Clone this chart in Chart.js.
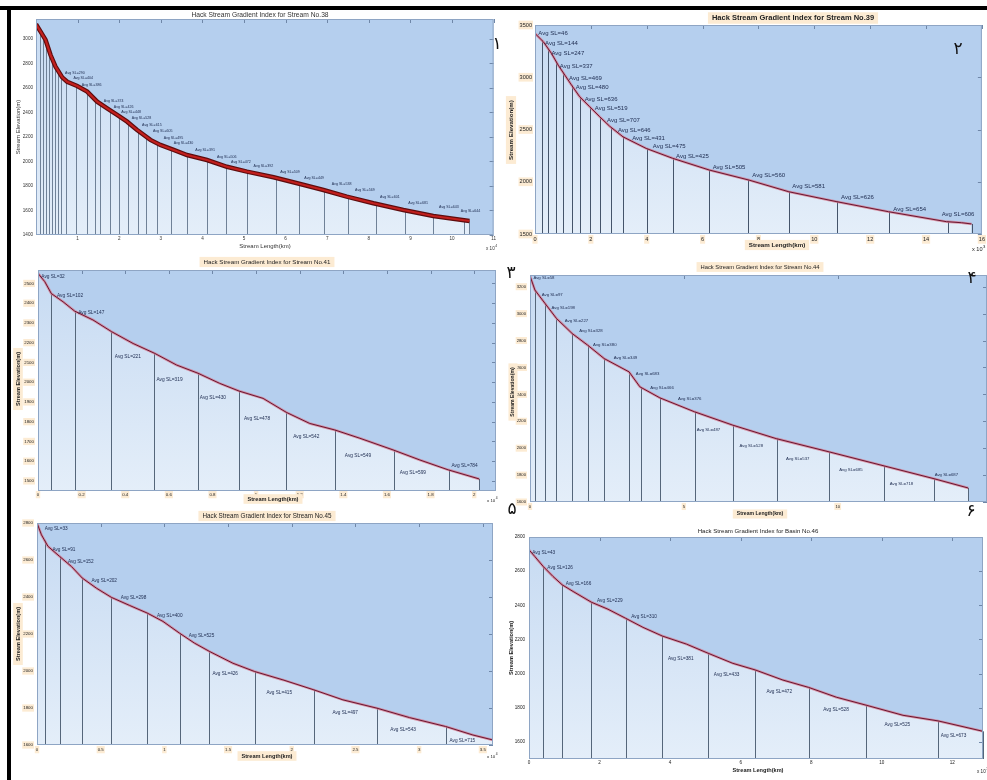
<!DOCTYPE html>
<html>
<head>
<meta charset="utf-8">
<script src="https://cdn.jsdelivr.net/npm/chart.js@4.4.1/dist/chart.umd.min.js"></script>
<style>
  html, body { margin: 0; padding: 0; background: #fff; }
  #page { position: relative; width: 987px; height: 780px; overflow: hidden; background: #fff; }
  #page canvas { position: absolute; z-index: 1; }
  .frame { position: absolute; background: #000; z-index: 2; }
  .num { position: absolute; z-index: 3; font-family: "DejaVu Sans", sans-serif; font-size: 17px; color: #111; line-height: 1; transform: translate(-50%, -50%); }
</style>
</head>
<body>
<div id="page">
  <div class="frame" style="left:0;top:6px;width:987px;height:4px"></div>
  <div class="frame" style="left:7px;top:6px;width:4px;height:774px"></div>
  <div class="num" style="left:497px;top:43px">۱</div>
  <div class="num" style="left:958px;top:48px">۲</div>
  <div class="num" style="left:511px;top:272px">۳</div>
  <div class="num" style="left:972px;top:277px">۴</div>
  <div class="num" style="left:512px;top:508px">۵</div>
  <div class="num" style="left:971px;top:510px">۶</div>
</div>
<script>
"use strict";

// stream No.38 (length x10^4, elevation m)
const len38 = [0, 0.11, 0.23, 0.35, 0.47, 0.63, 0.75, 0.99, 1.23, 1.47, 1.71, 1.95, 2.19, 2.43, 2.75, 2.99, 3.31, 3.63, 4.11, 4.59, 5.07, 5.71, 6.35, 6.91, 7.47, 8.11, 8.83, 9.55, 10.42];
const elev38 = [3120, 3060, 2992, 2869, 2774, 2687, 2651, 2616, 2570, 2488, 2434, 2380, 2325, 2257, 2176, 2135, 2094, 2053, 2012, 1957, 1917, 1871, 1816, 1767, 1713, 1659, 1604, 1555, 1514];
const breaks38 = [0.10, 0.18, 0.25, 0.31, 0.39, 0.46, 0.53, 0.61, 0.73, 0.95, 1.22, 1.41, 1.55, 1.77, 1.99, 2.22, 2.44, 2.65, 2.92, 3.25, 3.63, 4.12, 4.57, 5.07, 5.76, 6.32, 6.92, 7.50, 8.17, 8.87, 9.55, 10.30, 10.42];
const sl38 = [290, 404, 386, 374, 426, 448, 528, 615, 605, 495, 430, 391, 506, 472, 392, 509, 449, 538, 569, 601, 681, 643, 644];
const slX38 = [0.70, 0.90, 1.10, 1.63, 1.87, 2.05, 2.30, 2.55, 2.81, 3.07, 3.31, 3.83, 4.35, 4.69, 5.23, 5.87, 6.45, 7.11, 7.67, 8.27, 8.95, 9.69, 10.21];
const slY38 = [2725, 2684, 2624, 2496, 2442, 2402, 2355, 2298, 2247, 2194, 2149, 2094, 2039, 1996, 1963, 1912, 1868, 1816, 1767, 1713, 1659, 1626, 1596];
const xTicks38 = [1, 2, 3, 4, 5, 6, 7, 8, 9, 10, 11];
const yTicks38 = [1400, 1600, 1800, 2000, 2200, 2400, 2600, 2800, 3000];

// stream No.39 (length x10^3)
const len39 = [0, 0.30, 0.59, 0.83, 1.07, 1.31, 1.60, 1.96, 2.32, 2.67, 3.15, 3.98, 4.93, 6.24, 7.66, 9.09, 10.81, 12.66, 14.73, 15.27, 15.63];
const elev39 = [3419, 3339, 3228, 3116, 3020, 2924, 2813, 2717, 2621, 2532, 2430, 2319, 2224, 2112, 2016, 1904, 1809, 1713, 1618, 1608, 1596];
const breaks39 = [0.24, 0.47, 0.75, 1.01, 1.31, 1.60, 1.96, 2.34, 2.73, 3.15, 4.00, 4.93, 6.24, 7.63, 9.09, 10.81, 12.69, 14.80, 15.63];
const sl39 = [46, 144, 247, 337, 469, 480, 636, 519, 707, 646, 431, 475, 425, 505, 560, 581, 626, 654, 606];
const slX39 = [0.12, 0.36, 0.59, 0.89, 1.22, 1.46, 1.78, 2.14, 2.58, 2.97, 3.48, 4.22, 5.05, 6.36, 7.78, 9.21, 10.96, 12.83, 14.56];
const slY39 = [3419, 3329, 3228, 3106, 2994, 2908, 2791, 2701, 2583, 2494, 2415, 2335, 2239, 2138, 2057, 1952, 1847, 1739, 1688];
const xTicks39 = [0, 2, 4, 6, 8, 10, 12, 14, 16];
const yTicks39 = [1500, 2000, 2500, 3000, 3500];

// stream No.41 (length x10^4)
const len41 = [0, 0.031, 0.061, 0.115, 0.168, 0.252, 0.337, 0.436, 0.535, 0.635, 0.734, 0.833, 0.922, 1.032, 1.139, 1.246, 1.361, 1.476, 1.628, 1.751, 1.881, 2.023];
const elev41 = [2551, 2509, 2449, 2407, 2360, 2315, 2256, 2196, 2146, 2087, 2045, 1994, 1955, 1918, 1847, 1791, 1758, 1716, 1657, 1606, 1556, 1510];
const breaks41 = [0.061, 0.170, 0.337, 0.534, 0.733, 0.922, 1.136, 1.361, 1.633, 1.884, 2.023];
const sl41 = [32, 102, 147, 221, 319, 430, 478, 542, 549, 599, 784];
const slX41 = [0.015, 0.087, 0.184, 0.352, 0.543, 0.742, 0.944, 1.170, 1.407, 1.659, 1.896];
const slY41 = [2534, 2438, 2353, 2129, 2011, 1922, 1817, 1724, 1626, 1542, 1577];
const xTicks41 = [0, 0.2, 0.4, 0.6, 0.8, 1, 1.2, 1.4, 1.6, 1.8, 2];
const yTicks41 = [1500, 1600, 1700, 1800, 1900, 2000, 2100, 2200, 2300, 2400, 2500];

// stream No.44 (length x10^3)
const len44 = [0, 0.16, 0.49, 0.86, 1.37, 1.87, 2.41, 3.22, 3.57, 4.22, 5.35, 6.59, 8.00, 9.73, 11.51, 13.13, 14.24];
const elev44 = [3280, 3175, 3075, 2964, 2852, 2766, 2666, 2567, 2456, 2374, 2270, 2171, 2071, 1972, 1868, 1773, 1704];
const breaks44 = [0.16, 0.49, 0.86, 1.37, 1.87, 2.41, 3.22, 3.62, 4.22, 5.35, 6.59, 8.02, 9.73, 11.51, 13.13, 14.24];
const sl44 = [58, 97, 198, 227, 328, 380, 349, 683, 466, 376, 487, 528, 537, 685, 718, 687];
const slX44 = [0.11, 0.38, 0.70, 1.13, 1.60, 2.05, 2.72, 3.44, 3.91, 4.81, 5.42, 6.81, 8.32, 10.05, 11.69, 13.15];
const slY44 = [3267, 3143, 3046, 2944, 2870, 2766, 2674, 2555, 2448, 2364, 2133, 2014, 1918, 1836, 1732, 1803];
const xTicks44 = [0, 5, 10];
const yTicks44 = [1600, 1800, 2000, 2200, 2400, 2600, 2800, 3000, 3200];

// stream No.45 (length x10^4)
const len45 = [0, 0.035, 0.086, 0.178, 0.270, 0.356, 0.466, 0.584, 0.728, 0.866, 0.989, 1.120, 1.238, 1.356, 1.538, 1.709, 1.931, 2.174, 2.402, 2.669, 2.925, 3.208, 3.422, 3.58];
const elev45 = [2800, 2736, 2674, 2619, 2565, 2502, 2448, 2398, 2354, 2313, 2268, 2204, 2150, 2105, 2042, 1997, 1952, 1898, 1844, 1799, 1748, 1700, 1654, 1627];
const breaks45 = [0.060, 0.178, 0.356, 0.584, 0.866, 1.120, 1.350, 1.709, 2.174, 2.669, 3.208];
const sl45 = [33, 91, 152, 202, 298, 400, 525, 426, 415, 497, 543, 715];
const slX45 = [0.060, 0.121, 0.243, 0.427, 0.657, 0.942, 1.191, 1.377, 1.801, 2.319, 2.774, 3.239];
const slY45 = [2769, 2655, 2592, 2490, 2398, 2298, 2190, 1984, 1880, 1777, 1685, 1624];
const xTicks45 = [0, 0.5, 1, 1.5, 2, 2.5, 3, 3.5];
const yTicks45 = [1600, 1800, 2000, 2200, 2400, 2600, 2800];

// basin No.46 (length x10^3)
const len46 = [0, 0.16, 0.40, 0.68, 0.94, 1.25, 1.77, 2.24, 2.74, 3.23, 3.78, 4.46, 5.08, 5.78, 6.42, 7.20, 7.93, 8.71, 9.56, 10.60, 11.60, 12.87];
const elev46 = [2725, 2687, 2628, 2569, 2520, 2481, 2418, 2377, 2324, 2271, 2220, 2173, 2119, 2060, 2021, 1962, 1919, 1862, 1815, 1756, 1723, 1662];
const breaks46 = [0.40, 0.94, 1.77, 2.74, 3.78, 5.08, 6.42, 7.93, 9.56, 11.60, 12.87];
const sl46 = [43, 126, 166, 229, 310, 381, 433, 472, 528, 525, 673];
const slX46 = [0.09, 0.52, 1.04, 1.93, 2.90, 3.94, 5.24, 6.73, 8.34, 10.08, 11.67];
const slY46 = [2710, 2622, 2526, 2428, 2336, 2089, 1995, 1897, 1790, 1702, 1639];
const xTicks46 = [0, 2, 4, 6, 8, 10, 12];
const yTicks46 = [1600, 1800, 2000, 2200, 2400, 2600, 2800];

const FONT = '"Liberation Sans", Arial, sans-serif';
const PEACH = "#fcebd3";
const SKY = "#b5cfee";
const FILL_TOP = "#c6daf2";
const FILL_BOTTOM = "#e4eef9";

// panel layout: box = canvas [left, top, width, height] in page px
const panels = [
  {
    no: 38, box: [10, 10, 487, 246], yw: 26, top: 9, right: 3, xh: 21,
    len: len38, elev: elev38, breaks: breaks38, sl: sl38, slX: slX38, slY: slY38,
    xTicks: xTicks38, yTicks: yTicks38, xMax: 11, yMin: 1400, yMax: 3163,
    title: "Hack Stream Gradient Index for Stream No.38", titleAt: [260, 15], titleSize: 6.7, titleBold: false,
    xTitleAt: [265, 246], yTitleAt: [18, 127], axisSize: 6, axisBold: false,
    exp: "4", expAt: [486, 249], tickSize: 4.6, xPad: 1, yPad: 3, slSize: 3.6,
    peach: false, textColor: "#333",
    lineColor: "#c21f1d", lineWidth: 2.2, haloColor: "#5e0c0e", haloWidth: 4.5, breakColor: "#6f8197"
  },
  {
    no: 39, box: [500, 10, 487, 245], yw: 35, top: 15, right: 4, xh: 21,
    len: len39, elev: elev39, breaks: breaks39, sl: sl39, slX: slX39, slY: slY39,
    xTicks: xTicks39, yTicks: yTicks39, xMax: 16, yMin: 1500, yMax: 3500,
    title: "Hack Stream Gradient Index for Stream No.39", titleAt: [793, 18], titleSize: 7.5, titleBold: true,
    xTitleAt: [777, 245], yTitleAt: [511, 130], axisSize: 6.2, axisBold: true,
    exp: "3", expAt: [972, 249], tickSize: 5.6, xPad: 2, yPad: 3, slSize: 6,
    peach: true, textColor: "#222",
    lineColor: "#6a1530", lineWidth: 1, haloColor: "rgba(214,120,140,0.75)", haloWidth: 2.6, breakColor: "#44546a"
  },
  {
    no: 41, box: [10, 256, 488, 250], yw: 28, top: 14, right: 2, xh: 15,
    len: len41, elev: elev41, breaks: breaks41, sl: sl41, slX: slX41, slY: slY41,
    xTicks: xTicks41, yTicks: yTicks41, xMax: 2.1, yMin: 1449, yMax: 2568,
    title: "Hack Stream Gradient Index for Stream No.41", titleAt: [267, 262], titleSize: 6.2, titleBold: false,
    xTitleAt: [273, 499], yTitleAt: [18, 379], axisSize: 5.6, axisBold: true,
    exp: "4", expAt: [487, 501], tickSize: 4.4, xPad: 1, yPad: 4, slSize: 4.8,
    peach: true, textColor: "#222",
    lineColor: "#6a1530", lineWidth: 1, haloColor: "rgba(214,120,140,0.75)", haloWidth: 2.6, breakColor: "#55667a"
  },
  {
    no: 44, box: [500, 258, 487, 262], yw: 30, top: 17, right: 0, xh: 18,
    len: len44, elev: elev44, breaks: breaks44, sl: sl44, slX: slX44, slY: slY44,
    xTicks: xTicks44, yTicks: yTicks44, xMax: 14.85, yMin: 1600, yMax: 3287,
    title: "Hack Stream Gradient Index for Stream No.44", titleAt: [760, 267], titleSize: 5.8, titleBold: false,
    xTitleAt: [760, 514], yTitleAt: [513, 392], axisSize: 5.1, axisBold: true,
    exp: "", expAt: [0, 0], tickSize: 4.2, xPad: 2, yPad: 4, slSize: 4.3,
    peach: true, textColor: "#222",
    lineColor: "#6a1530", lineWidth: 1, haloColor: "rgba(214,120,140,0.75)", haloWidth: 2.6, breakColor: "#55667a"
  },
  {
    no: 45, box: [10, 508, 488, 254], yw: 27, top: 15, right: 5, xh: 17,
    len: len45, elev: elev45, breaks: breaks45, sl: sl45, slX: slX45, slY: slY45,
    xTicks: xTicks45, yTicks: yTicks45, xMax: 3.58, yMin: 1600, yMax: 2800,
    title: "Hack Stream Gradient Index for Stream No.45", titleAt: [267, 516], titleSize: 6.3, titleBold: false,
    xTitleAt: [267, 756], yTitleAt: [18, 634], axisSize: 5.6, axisBold: true,
    exp: "4", expAt: [487, 757], tickSize: 4.4, xPad: 2, yPad: 4, slSize: 4.7,
    peach: true, textColor: "#222",
    lineColor: "#6a1530", lineWidth: 1, haloColor: "rgba(214,120,140,0.75)", haloWidth: 2.6, breakColor: "#55667a"
  },
  {
    no: 46, box: [500, 522, 487, 258], yw: 29, top: 15, right: 4, xh: 21,
    len: len46, elev: elev46, breaks: breaks46, sl: sl46, slX: slX46, slY: slY46,
    xTicks: xTicks46, yTicks: yTicks46, xMax: 12.87, yMin: 1500, yMax: 2800,
    title: "Hack Stream Gradient Index for Basin No.46", titleAt: [758, 531], titleSize: 6.1, titleBold: false,
    xTitleAt: [758, 770], yTitleAt: [511, 648], axisSize: 5.6, axisBold: true,
    exp: "3", expAt: [977, 772], tickSize: 4.6, xPad: 1, yPad: 4, slSize: 4.7,
    peach: false, textColor: "#222",
    lineColor: "#6a1530", lineWidth: 1, haloColor: "rgba(214,120,140,0.75)", haloWidth: 2.6, breakColor: "#55667a"
  }
];

// linear lookup of the profile elevation at a given length
function elevAt(xs, ys, x) {
  if (x <= xs[0]) return ys[0];
  for (let i = 1; i < xs.length; i++) {
    if (x <= xs[i]) {
      const t = (x - xs[i - 1]) / (xs[i] - xs[i - 1]);
      return ys[i - 1] + t * (ys[i] - ys[i - 1]);
    }
  }
  return ys[ys.length - 1];
}

function font(size, bold) {
  return (bold ? "bold " : "") + size + "px " + FONT;
}

// centered text with optional peach backdrop
function drawLabel(ctx, text, x, y, size, bold, color, backdrop, rotate) {
  ctx.save();
  ctx.translate(x, y);
  if (rotate) ctx.rotate(-Math.PI / 2);
  ctx.font = font(size, bold);
  ctx.textAlign = "center";
  ctx.textBaseline = "middle";
  if (backdrop) {
    const w = ctx.measureText(text).width;
    ctx.fillStyle = PEACH;
    ctx.fillRect(-w / 2 - 4, -size / 2 - 2, w + 8, size + 4);
  }
  ctx.fillStyle = color;
  ctx.fillText(text, 0, 0);
  ctx.restore();
}

function panelPlugin(p) {
  const ox = p.box[0];
  const oy = p.box[1];
  return {
    id: "panel" + p.no,
    beforeDraw(chart) {
      const { ctx, chartArea: a } = chart;
      ctx.save();
      ctx.fillStyle = SKY;
      ctx.fillRect(a.left, a.top, a.right - a.left, a.bottom - a.top);
      ctx.restore();
    },
    beforeDatasetDraw(chart, args) {
      if (args.index !== 1) return;
      const { ctx, chartArea: a, scales: { x, y } } = chart;
      ctx.save();
      // segment boundaries
      ctx.strokeStyle = p.breakColor;
      ctx.lineWidth = 1;
      p.breaks.forEach((b) => {
        const px = Math.round(x.getPixelForValue(b)) + 0.5;
        ctx.beginPath();
        ctx.moveTo(px, y.getPixelForValue(elevAt(p.len, p.elev, b)));
        ctx.lineTo(px, a.bottom);
        ctx.stroke();
      });
      // inner tick marks on top and right
      ctx.strokeStyle = "#6f87a8";
      x.ticks.forEach((t) => {
        const px = Math.round(x.getPixelForValue(t.value)) + 0.5;
        ctx.beginPath();
        ctx.moveTo(px, a.top);
        ctx.lineTo(px, a.top + 4);
        ctx.stroke();
      });
      y.ticks.forEach((t) => {
        const py = Math.round(y.getPixelForValue(t.value)) + 0.5;
        ctx.beginPath();
        ctx.moveTo(a.right, py);
        ctx.lineTo(a.right - 4, py);
        ctx.stroke();
      });
      ctx.restore();
    },
    afterDatasetsDraw(chart) {
      const { ctx, chartArea: a, scales: { x, y } } = chart;
      ctx.save();
      ctx.font = font(p.slSize, false);
      ctx.fillStyle = "#1d2b4f";
      ctx.textAlign = "left";
      ctx.textBaseline = "middle";
      p.sl.forEach((v, i) => {
        ctx.fillText("Avg SL=" + v, x.getPixelForValue(p.slX[i]), y.getPixelForValue(p.slY[i]));
      });
      ctx.strokeStyle = "#8ea5c4";
      ctx.lineWidth = 1;
      ctx.strokeRect(a.left + 0.5, a.top + 0.5, a.right - a.left - 1, a.bottom - a.top - 1);
      ctx.restore();
    },
    afterDraw(chart) {
      const ctx = chart.ctx;
      drawLabel(ctx, p.title, p.titleAt[0] - ox, p.titleAt[1] - oy, p.titleSize, p.titleBold, p.textColor, p.peach, false);
      drawLabel(ctx, "Stream Length(km)", p.xTitleAt[0] - ox, p.xTitleAt[1] - oy, p.axisSize, p.axisBold, p.textColor, p.peach, false);
      drawLabel(ctx, "Stream Elevation(m)", p.yTitleAt[0] - ox, p.yTitleAt[1] - oy, p.axisSize, p.axisBold, p.textColor, p.peach, true);
      if (p.exp) {
        ctx.save();
        ctx.fillStyle = p.textColor;
        ctx.textAlign = "left";
        ctx.textBaseline = "middle";
        ctx.font = font(p.tickSize, false);
        const ex = p.expAt[0] - ox;
        const ey = p.expAt[1] - oy;
        ctx.fillText("x 10", ex, ey);
        const w = ctx.measureText("x 10").width;
        ctx.font = font(p.tickSize * 0.75, false);
        ctx.fillText(p.exp, ex + w + 0.5, ey - 2.5);
        ctx.restore();
      }
    }
  };
}

const page = document.getElementById("page");

panels.forEach((p) => {
  const cv = document.createElement("canvas");
  cv.width = p.box[2];
  cv.height = p.box[3];
  cv.style.left = p.box[0] + "px";
  cv.style.top = p.box[1] + "px";
  cv.style.width = p.box[2] + "px";
  cv.style.height = p.box[3] + "px";
  page.appendChild(cv);

  const points = p.len.map((v, i) => ({ x: v, y: p.elev[i] }));
  const tickFont = { family: FONT, size: p.tickSize };

  new Chart(cv, {
    type: "line",
    data: {
      datasets: [
        {
          data: points,
          borderColor: p.lineColor,
          borderWidth: p.lineWidth,
          pointRadius: 0,
          tension: 0,
          fill: false
        },
        {
          data: points,
          borderColor: p.haloColor,
          borderWidth: p.haloWidth,
          pointRadius: 0,
          tension: 0,
          fill: "start",
          backgroundColor: (c) => {
            const area = c.chart.chartArea;
            if (!area) return FILL_BOTTOM;
            const g = c.chart.ctx.createLinearGradient(0, area.top, 0, area.bottom);
            g.addColorStop(0, FILL_TOP);
            g.addColorStop(1, FILL_BOTTOM);
            return g;
          }
        }
      ]
    },
    options: {
      responsive: false,
      animation: false,
      devicePixelRatio: 1,
      layout: { padding: { left: 0, top: p.top, right: p.right, bottom: 0 } },
      plugins: {
        legend: { display: false },
        tooltip: { enabled: false },
        title: { display: false }
      },
      scales: {
        x: {
          type: "linear",
          min: 0,
          max: p.xMax,
          grid: { display: false, drawTicks: false },
          border: { display: false },
          afterBuildTicks: (s) => { s.ticks = p.xTicks.map((v) => ({ value: v })); },
          afterFit: (s) => { s.height = p.xh; },
          ticks: {
            font: tickFont,
            color: p.textColor,
            padding: p.xPad,
            maxRotation: 0,
            autoSkip: false,
            showLabelBackdrop: p.peach,
            backdropColor: PEACH,
            backdropPadding: 1,
            callback: (v) => String(v)
          }
        },
        y: {
          type: "linear",
          min: p.yMin,
          max: p.yMax,
          grid: { display: false, drawTicks: false },
          border: { display: false },
          afterBuildTicks: (s) => { s.ticks = p.yTicks.map((v) => ({ value: v })); },
          afterFit: (s) => { s.width = p.yw; },
          ticks: {
            font: tickFont,
            color: p.textColor,
            padding: p.yPad,
            autoSkip: false,
            showLabelBackdrop: p.peach,
            backdropColor: PEACH,
            backdropPadding: 1,
            callback: (v) => String(v)
          }
        }
      }
    },
    plugins: [panelPlugin(p)]
  });
});
</script>
</body>
</html>
